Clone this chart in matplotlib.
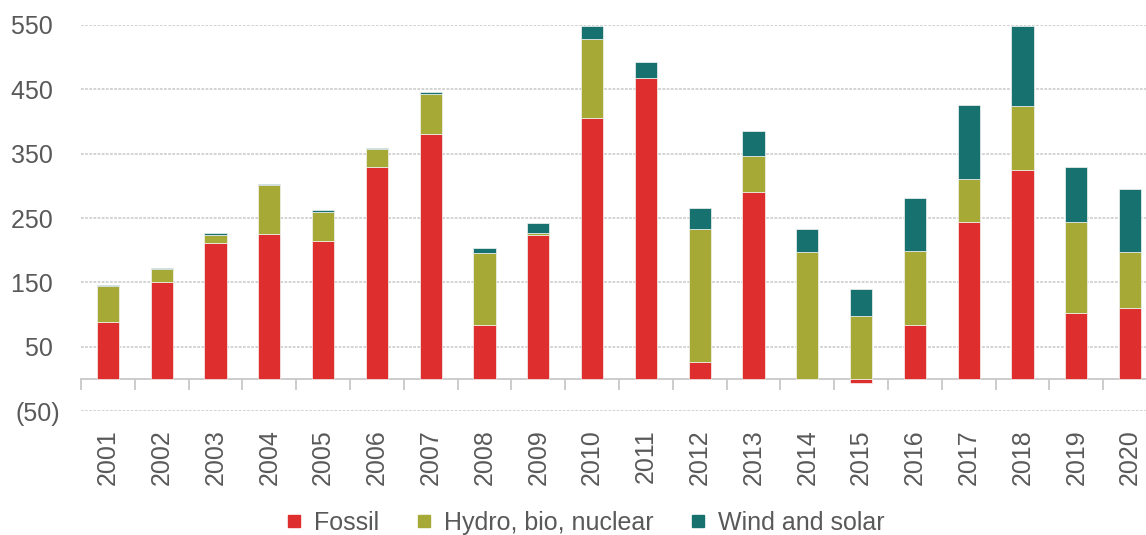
import numpy as np
import matplotlib
matplotlib.use("Agg")
import matplotlib.pyplot as plt
from matplotlib.lines import Line2D

# values
years = [str(y) for y in range(2001, 2021)]
fossil = [88, 150, 211, 225, 214, 329, 380, 84, 223, 405,
          467, 26, 290, 0, -6, 84, 244, 324, 102, 110]
hydro_bio_nuclear = [56, 20, 13, 76, 46, 28, 63, 111, 4, 124,
                     0, 207, 56, 197, 98, 115, 67, 100, 142, 87]
wind_solar = [2, 2, 2, 2, 2, 2, 3, 8, 16, 20,
              26, 33, 40, 36, 42, 82, 114, 124, 86, 98]
yticks = [-50, 50, 150, 250, 350, 450, 550]

c_fossil = "#DE2E2E"
c_hydro = "#A7A937"
c_wind = "#17716E"
txt = "#595959"

plt.rcParams['font.family'] = ['Liberation Sans', 'DejaVu Sans']

fig = plt.figure(figsize=(11.46, 5.35), dpi=100)
ax = fig.add_axes([81/1146, 1-411/535, (1157-81)/1146, (411-25)/535])

x = np.arange(len(years))
f = np.array(fossil)
h = np.array(hydro_bio_nuclear)
w = np.array(wind_solar)
base = np.clip(f, 0, None)  # excel stacks positives above zero

bw = 0.41
ax.bar(x, f, bw, color=c_fossil, edgecolor="#f4f4f4", linewidth=0.5, zorder=3)
ax.bar(x, h, bw, bottom=base, color=c_hydro, edgecolor="#f4f4f4", linewidth=0.5, zorder=3)
ax.bar(x, w, bw, bottom=base + h, color=c_wind, edgecolor="#f4f4f4", linewidth=0.5, zorder=3)

ax.set_xlim(-0.5, len(years) - 0.5)
ax.set_ylim(-50, 550)
ax.set_yticks(yticks)
ax.set_yticklabels([f"({-v})" if v < 0 else f"{v} " for v in yticks])
ax.yaxis.grid(True, color="#d0d0d0", linestyle=(0, (1.5, 0.8)), linewidth=1.3, zorder=0)
ax.set_axisbelow(True)

ax.set_xticks(x)
ax.set_xticklabels(years, rotation=90)
ax.tick_params(axis='x', length=0, pad=13, labelsize=18, labelcolor=txt)
ax.tick_params(axis='y', length=0, pad=15, labelsize=18, labelcolor=txt)
for s in ax.spines.values():
    s.set_visible(False)

# zero line with category tick marks
sec = ax.secondary_xaxis(50/600)
sec.set_xticks(np.arange(len(years) + 1) - 0.5)
sec.set_xticklabels([])
sec.tick_params(axis='x', length=8, width=1.3, color="#c8c8c8", direction='out')
sec.spines['bottom'].set_color("#c8c8c8")
sec.spines['bottom'].set_linewidth(1.3)

handles = [Line2D([], [], marker='s', linestyle='', markersize=9, color=c)
           for c in (c_fossil, c_hydro, c_wind)]
fig.legend(handles, ["Fossil", "Hydro, bio, nuclear", "Wind and solar"],
           loc='center', bbox_to_anchor=(583/1146, 1-523/535), ncol=3, frameon=False,
           fontsize=18, labelcolor=txt, handletextpad=0.3, columnspacing=1.3,
           handlelength=1.0)

fig.savefig("out.png", dpi=100)
